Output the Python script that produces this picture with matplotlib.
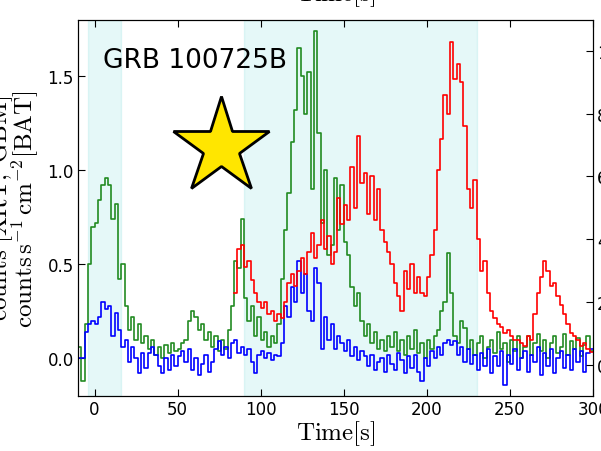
import numpy as np
import matplotlib
matplotlib.use("Agg")
import matplotlib.pyplot as plt

plt.rcParams['mathtext.fontset'] = 'cm'

# time bins (2 s), left edges
t_lc = np.arange(-10, 300, 2)
t_red = np.arange(84, 300, 2)

# GBM-like light curve (green, left axis)
green = [
    0.06, -0.12, 0.18, 0.50, 0.70, 0.72, 0.84, 0.92, 0.96, 0.92,
    0.74, 0.82, 0.42, 0.50, 0.28, 0.15, 0.22, 0.10, 0.18, 0.08,
    0.12, 0.05, 0.10, 0.02, 0.06, 0.00, 0.07, 0.03, 0.08, 0.04,
    0.05, 0.08, 0.10, 0.20, 0.25, 0.22, 0.15, 0.18, 0.10, 0.14,
    0.06, 0.12, 0.04, 0.10, 0.05, 0.15, 0.28, 0.52, 0.48, 0.74,
    0.32, 0.20, 0.28, 0.12, 0.22, 0.10, 0.14, 0.06, 0.12, 0.08,
    0.18, 0.42, 0.68, 0.88, 1.15, 1.32, 1.65, 1.50, 1.30, 1.52,
    0.90, 1.74, 1.20, 0.72, 1.00, 0.55, 0.60, 0.96, 0.68, 0.92,
    0.62, 0.55, 0.38, 0.28, 0.35, 0.20, 0.12, 0.18, 0.08, 0.14,
    0.05, 0.10, 0.04, 0.12, 0.06, 0.14, 0.04, 0.10, 0.02, 0.12,
    0.05, 0.15, 0.03, 0.08, 0.00, 0.10, 0.05, 0.12, 0.15, 0.25,
    0.30, 0.56, 0.35, 0.12, 0.08, 0.20, 0.16, 0.05, 0.10, 0.02,
    0.08, 0.12, 0.00, 0.06, 0.10, 0.03, 0.14, 0.05, 0.08, -0.02,
    0.10, 0.04, 0.12, 0.00, 0.06, 0.12, 0.02, 0.08, 0.13, 0.04,
    0.10, 0.00, 0.08, 0.12, 0.03, 0.06, 0.13, 0.02, 0.09, 0.05,
    0.11, 0.01, 0.07, 0.12, 0.04,
]

# second light curve (blue, left axis)
blue = [
    0.00, 0.00, 0.14, 0.18, 0.20, 0.18, 0.22, 0.30, 0.26, 0.28,
    0.12, 0.24, 0.15, 0.06, 0.10, -0.02, 0.06, 0.00, -0.08, 0.03,
    -0.05, 0.03, 0.06, 0.02, -0.04, -0.08, 0.00, -0.06, 0.02, -0.04,
    0.01, 0.04, -0.02, 0.05, -0.06, 0.00, -0.09, -0.03, 0.02, -0.07,
    -0.02, 0.05, 0.09, 0.02, 0.06, 0.00, 0.08, 0.10, 0.03, 0.06,
    0.02, 0.05, -0.02, -0.08, 0.02, 0.04, 0.00, 0.03, -0.01, 0.02,
    0.01, 0.08, 0.28, 0.22, 0.38, 0.30, 0.52, 0.35, 0.45, 0.25,
    0.20, 0.48, 0.40, 0.05, 0.22, 0.10, 0.18, 0.05, 0.12, 0.08,
    0.04, 0.10, 0.01, 0.06, -0.01, 0.04, 0.01, -0.04, 0.02, -0.06,
    -0.02, 0.00, -0.07, 0.02, -0.03, -0.06, 0.03, -0.01, -0.08, 0.01,
    -0.05, 0.02, -0.07, -0.12, 0.00, -0.04, 0.04, 0.00, 0.06, 0.02,
    0.08, 0.10, 0.07, 0.09, 0.02, 0.06, -0.02, 0.05, -0.03, 0.02,
    -0.06, 0.03, -0.04, 0.05, -0.08, 0.01, -0.04, 0.04, -0.14, 0.02,
    -0.03, 0.05, -0.06, 0.00, 0.04, -0.07, 0.02, -0.02, 0.06, -0.09,
    0.03, -0.04, 0.05, -0.08, 0.00, 0.04, -0.05, 0.02, -0.06, 0.05,
    -0.02, 0.04, -0.07, 0.03, 0.05,
]

# XRT-like light curve (red, right axis)
red = [
    2.3, 3.7, 3.8, 3.1, 3.3, 2.7, 2.3, 2.0, 1.8, 2.0,
    1.6, 1.7, 1.4, 1.6, 1.5, 2.0, 2.6, 2.9, 2.5, 3.0,
    3.4, 2.9, 3.6, 4.2, 3.4, 3.8, 4.6, 3.7, 4.1, 3.2,
    3.6, 5.3, 4.5, 5.1, 4.6, 6.3, 5.0, 7.3, 5.8, 6.1,
    4.8, 6.0, 4.6, 5.6, 4.3, 3.9, 3.6, 3.2, 2.6, 2.2,
    1.7, 3.0, 2.4, 3.2, 2.3, 2.8, 2.3, 2.2, 2.8, 3.5,
    4.3, 6.2, 7.2, 8.6, 8.0, 10.3, 9.1, 9.6, 9.0, 7.6,
    5.6, 5.0, 5.9, 4.0, 3.0, 3.3, 2.3, 1.7, 1.5, 1.3,
    1.2, 1.0, 1.1, 0.9, 0.8, 0.8, 0.7, 0.6, 0.9, 0.8,
    1.6, 2.3, 2.8, 3.3, 3.0, 2.5, 2.6, 2.2, 1.9, 1.6,
    1.3, 1.0, 0.9, 0.8, 0.6, 0.7, 0.5, 0.4,
]

spans = [(-4, 16), (90, 230)]
xticks = [0, 50, 100, 150, 200, 250, 300]
yticks_left = [0.0, 0.5, 1.0, 1.5]
yticks_right = [0, 2, 4, 6, 8, 10]


def steps(t, y):
    # extend last bin to its right edge
    return np.append(t, t[-1] + 2), np.append(y, y[-1])


fig = plt.figure(figsize=(6.01, 4.52), dpi=100)
ax = fig.add_axes([0.1298, 0.1217, 0.8569, 0.8325])

for a, b in spans:
    ax.axvspan(a, b, color='c', alpha=0.1)

x, y = steps(t_lc, green)
ax.plot(x, y, drawstyle='steps-post', color='forestgreen', lw=1.2)
x, y = steps(t_lc, blue)
ax.plot(x, y, drawstyle='steps-post', color='b', lw=1.2)

ax.plot(76, 1.124, marker='*', ms=73, mfc='#ffe600', mec='k', mew=2, zorder=10)
ax.text(5, 1.55, 'GRB 100725B', fontsize=19)

ax.set_xlim(-10, 300)
ax.set_ylim(-0.2, 1.8)
ax.set_xticks(xticks)
ax.set_yticks(yticks_left)
ax.tick_params(direction='in', length=5, labelsize=12, pad=3, top=True, right=False)

ax.set_xlabel(r'$\mathrm{Time[s]}$', fontsize=18)
ax.xaxis.set_label_coords(0.5, -0.058)
ax.text(0.5, 1.0324, r'$\mathrm{Time[s]}$', transform=ax.transAxes,
        ha='center', va='bottom', fontsize=18)
ax.text(-0.123, 0.5, r'$\mathrm{counts\ [XRT,\ GBM]}$', transform=ax.transAxes,
        rotation=90, ha='right', va='center', fontsize=18)
ax.text(-0.072, 0.5, r'$\mathrm{counts\,s^{-1}\,cm^{-2}[BAT]}$', transform=ax.transAxes,
        rotation=90, ha='right', va='center', fontsize=18)

ax2 = ax.twinx()
x, y = steps(t_red, red)
ax2.plot(x, y, drawstyle='steps-post', color='r', lw=1.2)
ax2.set_ylim(-1, 11)
ax2.set_yticks(yticks_right)
ax2.tick_params(direction='in', length=5, labelsize=12, pad=3)
ax2.set_xlim(-10, 300)

fig.savefig('out.png', dpi=100)
